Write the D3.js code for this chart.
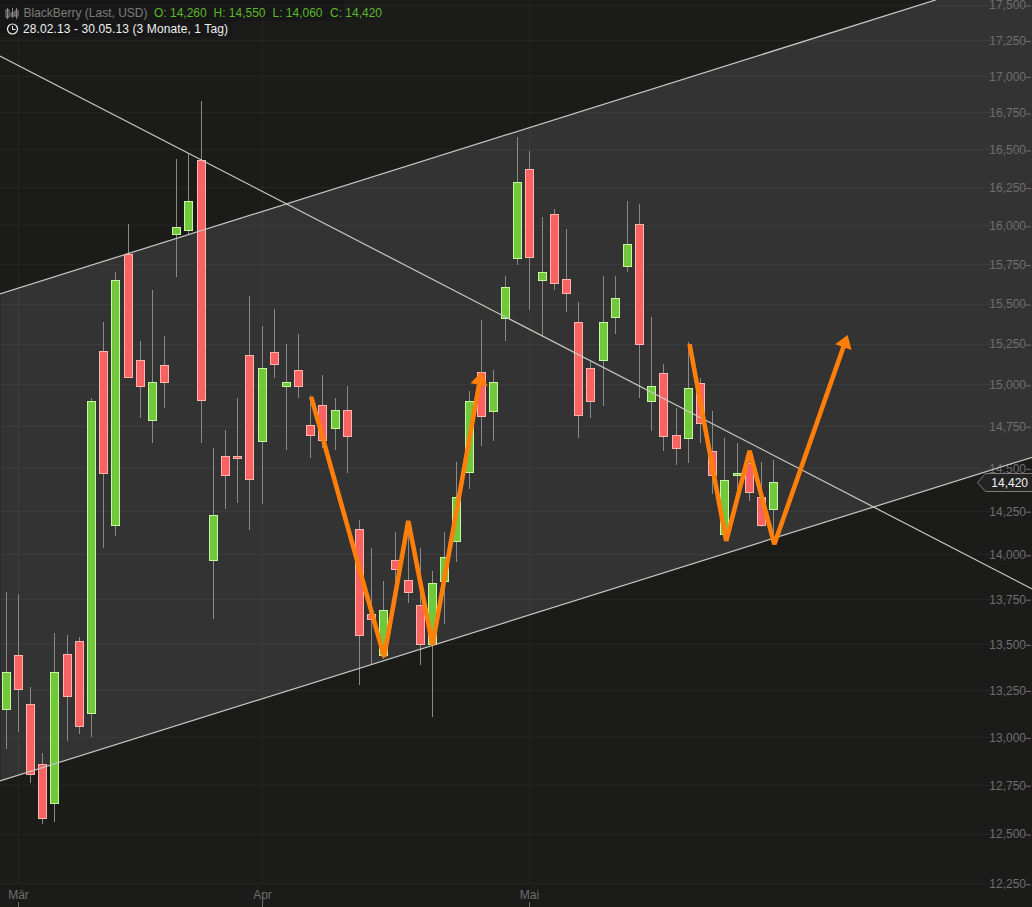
<!DOCTYPE html>
<html><head><meta charset="utf-8">
<script src="https://cdn.jsdelivr.net/npm/d3@7/dist/d3.min.js"></script>
<style>
html,body{margin:0;padding:0;background:#1b1b1a;overflow:hidden}
svg{display:block}
text{font-family:"Liberation Sans",Arial,sans-serif;font-size:12px}
</style></head><body>
<svg id="c" width="1032" height="907"></svg>
<script>
const opens=[13150,13440,13180,12860,12660,13450,13520,13130,15210,14170,15820,15150,14790,15120,15950,15970,16430,13970,14570,14570,15180,14660,15200,14990,15090,14760,14880,14740,14850,14150,13670,13440,13970,13860,13720,13500,13850,14080,14480,15080,14840,15410,15790,16370,15650,16080,15660,15390,15100,15150,15420,15740,16010,14900,15070,14700,14680,15010,14600,14120,14460,14530,14330,14260];
const highs=[13790,13780,13270,12920,13560,13550,13540,14920,15390,15700,16010,15270,15590,15300,16440,16470,16830,14620,14730,14920,15550,15360,15470,15250,15310,14940,15060,14920,14990,14200,14040,13850,14130,14170,14040,13910,14130,14540,14960,15400,15090,15680,16590,16490,16060,16110,15980,15510,15140,15680,15680,16160,16140,15420,15130,14860,15260,15040,14840,14680,14650,14610,14540,14550];
const lows=[12940,13030,12760,12550,12560,12980,13020,13000,14040,14110,15040,14800,14650,14860,15670,15950,14650,13640,14260,14300,14140,14290,15040,14610,14920,14560,14620,14610,14470,13280,13390,13420,13720,13730,13390,13110,13610,13960,14380,14630,14660,15270,15750,15460,15300,15590,15450,14680,14800,14870,15310,15700,14920,14720,14600,14520,14530,14650,14350,14090,14360,14310,14160,14060];
const closes=[13350,13260,12810,12580,13350,13220,13060,14900,14470,15650,15050,14990,15020,15020,15990,16160,14910,14230,14460,14560,14440,15100,15130,15020,14990,14700,14670,14850,14690,13550,13640,13690,13920,13790,13500,13840,13990,14330,14900,14810,15020,15610,16290,15800,15700,15630,15570,14820,14900,15390,15540,15880,15250,14990,14690,14620,14980,14770,14460,14430,14470,14360,14170,14420];
const priceTicks=[17500,17250,17000,16750,16500,16250,16000,15750,15500,15250,15000,14750,14500,14250,14000,13750,13500,13250,13000,12750,12500,12250];
const monthLabels=["Mär","Apr","Mai"];
const monthDays=[1,21,43];
const channelUpper=[[-0.52,15564],[76.31,17536]];
const channelLower=[[-0.52,12772],[84.3,14567]];
const fallingLine=[[-0.52,17142],[84.3,13805]];
const channelCorner=[84.3,17536];
const arrowOne=[[25.04,14926],[31.03,13432],[33.01,14194],[35,13497],[39.01,15079]];
const arrowTwo=[[56.1,15250],[59.11,14079],[61.03,14603],[63.06,14060],[69.08,15307]];
const lastPrice=14420;

const svg=d3.select("#c");
const x=d3.scaleLinear().domain([0,63]).range([6.2,773.6]);
const y=d3.scaleLog().domain([17500,12250]).range([5,883.8]);
const bg="#1b1b1a", axisCol="#6e6e6e";
const snap=v=>Math.floor(v)+.5;
const snapY=v=>Math.round(v)+.5;
const pt=d=>[x(d[0]),y(d[1])];

svg.append("rect").attr("width",1032).attr("height",907).attr("fill",bg);
svg.append("path").attr("fill","#333333")
  .attr("d",d3.line()([...channelUpper,channelCorner,...channelLower.slice().reverse()].map(pt)));
svg.append("rect").attr("width",1).attr("height",907).attr("fill",bg).attr("opacity",.35);

const grid=svg.append("g").attr("stroke","#ffffff").attr("stroke-opacity",.045);
grid.selectAll("line.h").data(priceTicks).join("line")
  .attr("x1",0).attr("x2",1026).attr("y1",d=>snap(y(d))).attr("y2",d=>snap(y(d)));
grid.selectAll("line.v").data(monthDays).join("line")
  .attr("x1",d=>snap(x(d))).attr("x2",d=>snap(x(d))).attr("y1",0).attr("y2",884);

const yAxis=d3.axisRight(y).tickValues(priceTicks).tickFormat(d3.format(",")).tickSize(5).tickPadding(0);
const yg=svg.append("g").attr("transform","translate(1026,0)").call(yAxis);
yg.select(".domain").remove();
yg.selectAll("line").attr("stroke",axisCol).attr("transform","translate(0,.5)");
yg.selectAll("text").attr("x",0).attr("text-anchor","end").attr("fill",axisCol).attr("font-size",12);

const xAxis=d3.axisBottom(x).tickValues(monthDays).tickFormat((d,i)=>monthLabels[i]).tickSize(5).tickPadding(0);
const xg=svg.append("g").attr("transform","translate(0,902)").call(xAxis);
xg.select(".domain").remove();
xg.selectAll("line").attr("stroke",axisCol).attr("x1",0).attr("x2",0);
xg.selectAll(".tick").attr("transform",d=>`translate(${snap(x(d))},0)`);
xg.selectAll("text").attr("y",-3).attr("dy",0).attr("fill",axisCol).attr("font-size",12);

const candles=opens.map((o,i)=>({i,o,h:highs[i],l:lows[i],c:closes[i]}));
const g=svg.append("g");
g.selectAll("line").data(candles).join("line")
  .attr("x1",d=>snap(x(d.i))).attr("x2",d=>snap(x(d.i)))
  .attr("y1",d=>Math.round(y(d.h))).attr("y2",d=>Math.round(y(d.l)))
  .attr("stroke","#8c8888");
g.selectAll("rect").data(candles).join("rect")
  .attr("x",d=>snap(x(d.i))-4).attr("width",8)
  .attr("y",d=>snapY(y(Math.max(d.o,d.c))))
  .attr("height",d=>Math.max(1,snapY(y(Math.min(d.o,d.c)))-snapY(y(Math.max(d.o,d.c)))))
  .attr("fill",d=>d.c>=d.o?"#70c83a":"#f86262")
  .attr("stroke",d=>d.c>=d.o?"#c6f8a0":"#ffb4ac");

const lineGen=d3.line();
[channelUpper,channelLower,fallingLine].forEach(l=>{
  svg.append("path").attr("d",lineGen(l.map(pt))).attr("fill","none")
    .attr("stroke","#c8c8c4").attr("stroke-width",1.2);
});

const orange="#ff7f0a";
[arrowOne,arrowTwo].forEach(a=>{
  const p=a.map(pt), n=p.length, tip=p[n-1], prev=p[n-2];
  const dx=tip[0]-prev[0], dy=tip[1]-prev[1], len=Math.hypot(dx,dy), ux=dx/len, uy=dy/len;
  const base=[tip[0]-ux*13,tip[1]-uy*13];
  svg.append("path").attr("d",lineGen([...p.slice(0,n-1),[base[0]+ux,base[1]+uy]]))
    .attr("fill","none").attr("stroke",orange).attr("stroke-width",4.6)
    .attr("stroke-linejoin","bevel");
  svg.append("path").attr("fill",orange).attr("d",lineGen([
    tip,[base[0]-uy*8.7,base[1]+ux*8.7],[base[0]+uy*8.7,base[1]-ux*8.7]])+"Z");
});

// last price tag
const ly=Math.round(y(lastPrice));
svg.append("path").attr("d",`M1033,${ly-8.5}L985.5,${ly-8.5}L977.5,${ly+.5}L985.5,${ly+9.5}L1033,${ly+9.5}Z`)
  .attr("fill","#232322").attr("stroke","#7a7a7a");
svg.append("text").attr("x",1028).attr("y",ly+5).attr("text-anchor","end").attr("fill","#f2f2f2").text(d3.format(",")(lastPrice));

// header
const hd=svg.append("g");
hd.append("rect").attr("width",344).attr("height",21).attr("fill","#161616").attr("opacity",.6);
hd.append("rect").attr("y",21).attr("width",233).attr("height",16).attr("fill","#161616").attr("opacity",.6);
const ic=hd.append("g").attr("stroke","#8a8a8a").attr("fill","none");
[[7.5,8,19,10,17],[12.5,8,18,13,16],[16.5,8,19,11,16]].forEach(([a,t,b,r0,r1])=>{
  ic.append("line").attr("x1",a).attr("x2",a).attr("y1",t).attr("y2",b);
  ic.append("rect").attr("x",a-1.5).attr("y",r0).attr("width",3).attr("height",r1-r0);
});
hd.append("circle").attr("cx",12.5).attr("cy",29).attr("r",5).attr("fill","none").attr("stroke","#eee").attr("stroke-width",1.2);
hd.append("path").attr("d","M12.5,26V29.5H15.5").attr("fill","none").attr("stroke","#eee");
hd.append("text").attr("x",23.5).attr("y",17).attr("fill","#7c7c7c").attr("textLength",124).text("BlackBerry (Last, USD)");
const ohlc=[["O",opens[63]],["H",highs[63]],["L",lows[63]],["C",closes[63]]];
const ox=[154,213.5,272.5,330];
hd.selectAll("text.o").data(ohlc).join("text").attr("class","o")
  .attr("x",(d,i)=>ox[i]).attr("y",17).attr("fill","#5cb82a")
  .text(d=>`${d[0]}: ${d3.format(",")(d[1])}`);
hd.append("text").attr("x",23).attr("y",33).attr("fill","#efefef").attr("textLength",205).text("28.02.13 - 30.05.13 (3 Monate, 1 Tag)");
</script>
</body></html>
